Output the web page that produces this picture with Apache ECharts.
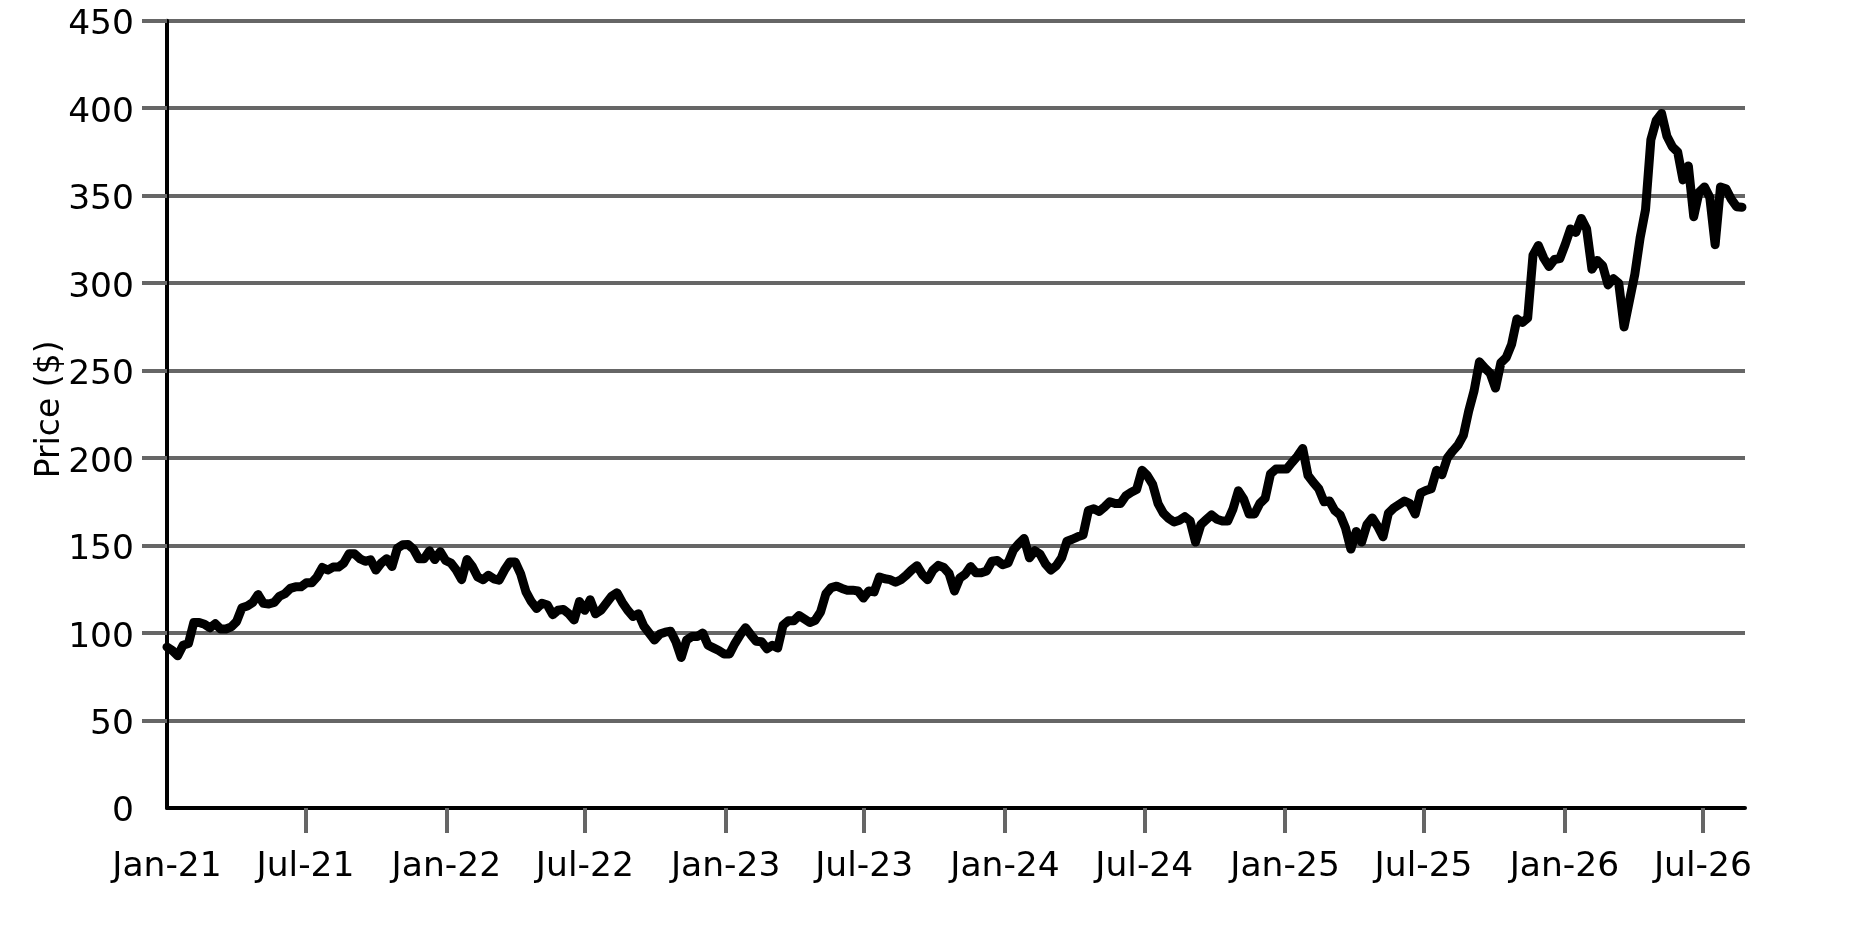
<!DOCTYPE html>
<html>
<head>
<meta charset="utf-8">
<script src="https://cdn.jsdelivr.net/npm/echarts@6/dist/echarts.min.js"></script>
<style>
html,body{margin:0;padding:0;background:#fff;}
#chart{width:1875px;height:938px;}
</style>
</head>
<body>
<div id="chart"></div>
<script>
// Weekly closing prices, first value on 2021-01-01
const startDate = '2021-01-01';
const endDate = '2026-08-25';
const prices = [
  92, 90, 87, 93, 94, 106, 106, 105, 103, 105.3,
  102.3, 102.3, 103.5, 106.6, 114.5, 115.5, 117.5, 122, 117, 116.6,
  117.5, 121, 122.5, 125.5, 126.4, 126.4, 128.7, 128.7, 132, 137.5,
  136, 137.7, 137.7, 140, 145.3, 145.3, 142.5, 141, 141.9, 136,
  140, 142.5, 138, 148.5, 150.5, 150.6, 148, 142.5, 142.5, 147,
  142, 146.5, 141.5, 140, 136, 130.5, 142, 138, 132, 130.5,
  133, 131, 130.2, 136, 140.6, 140.6, 134, 123.6, 118, 114,
  117, 116, 110.5, 113, 113.5, 111, 107.5, 118, 113, 119,
  111, 113, 117, 121, 123, 117.5, 113, 109.5, 111, 104,
  100, 96, 99.5, 100.5, 101, 95, 86, 96, 98, 98,
  100, 93, 91.5, 90, 88, 88, 94, 99, 103, 99,
  95.3, 95, 91, 93, 91.5, 104.5, 107, 107, 110, 108,
  106, 107.3, 112, 122.5, 126, 126.8, 125.5, 124.5, 124.5, 124,
  120, 124, 123.5, 132, 131, 130.5, 129, 130.5, 133, 136,
  138.5, 133.5, 130.5, 136, 138.7, 137.5, 134, 124, 131.5, 133.6,
  138, 134.5, 134.5, 135.5, 141, 141.5, 139, 140, 147.5, 151,
  154, 143, 147, 145, 139.5, 136, 138.5, 143, 152.5, 153.6,
  155, 156, 170, 171, 169.5, 172, 175, 174, 174, 178.5,
  180.5, 182, 193, 190, 185, 174, 168.5, 165.5, 163.5, 164.5,
  166.5, 164, 152, 162, 164.8, 167.5, 165, 164, 164, 171,
  181.3, 176.5, 168, 168, 174, 177, 191, 193.7, 193.7, 193.7,
  197.5, 201, 205.5, 190, 186, 182.5, 175, 175.5, 170, 167.5,
  160, 148, 158, 152, 162, 165.8, 161, 155, 168.5, 171.5,
  173.5, 175.5, 174, 168, 180, 181.5, 182.5, 193, 190.5, 200,
  204, 207.5, 213, 227, 238.5, 255, 251.5, 248.5, 240, 254.5,
  257.5, 265, 279.5, 277.5, 280, 316, 321.5, 314.3, 309.5, 313.5,
  314, 322, 331, 329, 337, 331, 308, 313, 310, 299,
  302.5, 300, 275, 290, 305, 326, 342, 382, 393, 397,
  384, 378, 375, 359, 367, 338, 352, 355, 349, 322,
  355, 354, 348, 343.7, 343.4
];
const labelDates = ['2021-01-01','2021-07-01','2022-01-01','2022-07-01','2023-01-01','2023-07-01',
  '2024-01-01','2024-07-01','2025-01-01','2025-07-01','2026-01-01','2026-07-01'];
const labelTexts = ['Jan-21','Jul-21','Jan-22','Jul-22','Jan-23','Jul-23',
  'Jan-24','Jul-24','Jan-25','Jul-25','Jan-26','Jul-26'];
const yTicks = [0, 50, 100, 150, 200, 250, 300, 350, 400, 450];

const toMs = s => Date.parse(s + 'T00:00:00Z');
const DAY = 86400000;
const t0 = toMs(startDate);
const seriesData = prices.map((v, i) => [t0 + i * 7 * DAY, v]);
const labelMs = labelDates.map(toMs);
const tickMs = labelMs.slice(1);
const FONT = 'DejaVu Sans';
const GRAY = '#666666';

const chart = echarts.init(document.getElementById('chart'), null, {renderer: 'canvas'});
chart.setOption({
  animation: false,
  backgroundColor: '#ffffff',
  grid: {left: 167, right: 130, top: 20.7, bottom: 130, containLabel: false},
  xAxis: {
    type: 'value',
    min: t0,
    max: toMs(endDate),
    axisLine: {show: true, onZero: false, lineStyle: {color: '#000', width: 4}},
    axisTick: {show: true, inside: false, length: 25, customValues: tickMs,
      lineStyle: {color: GRAY, width: 4}},
    axisLabel: {
      show: true, customValues: labelMs, margin: 42, color: '#000',
      fontFamily: FONT, fontSize: 34.5, hideOverlap: false,
      showMinLabel: true, showMaxLabel: true,
      formatter: function (val) {
        let best = 0, bd = Infinity;
        labelMs.forEach((m, i) => { const d = Math.abs(m - val); if (d < bd) { bd = d; best = i; } });
        return bd < 5 * DAY ? labelTexts[best] : '';
      }
    },
    splitLine: {show: false},
    minorTick: {show: false}
  },
  yAxis: {
    type: 'value',
    min: yTicks[0],
    max: yTicks[yTicks.length - 1],
    interval: 50,
    name: 'Price ($)',
    nameLocation: 'middle',
    nameGap: 100,
    nameMoveOverlap: false,
    nameTextStyle: {color: '#000', fontFamily: FONT, fontSize: 33, padding: [0, 0, 0, 10]},
    axisLine: {show: true, lineStyle: {color: '#000', width: 4}},
    axisTick: {show: true, inside: false, length: 25, customValues: yTicks.slice(1),
      lineStyle: {color: GRAY, width: 4}},
    axisLabel: {
      margin: 33, color: '#000', fontFamily: FONT, fontSize: 34.5,
      verticalAlign: 'top', lineHeight: 9
    },
    splitLine: {show: true, lineStyle: {color: GRAY, width: 4}}
  },
  series: [{
    type: 'line',
    data: seriesData,
    showSymbol: false,
    symbol: 'none',
    smooth: false,
    lineStyle: {color: '#000', width: 9, join: 'round', cap: 'round'},
    z: 5
  }]
});
</script>
</body>
</html>
